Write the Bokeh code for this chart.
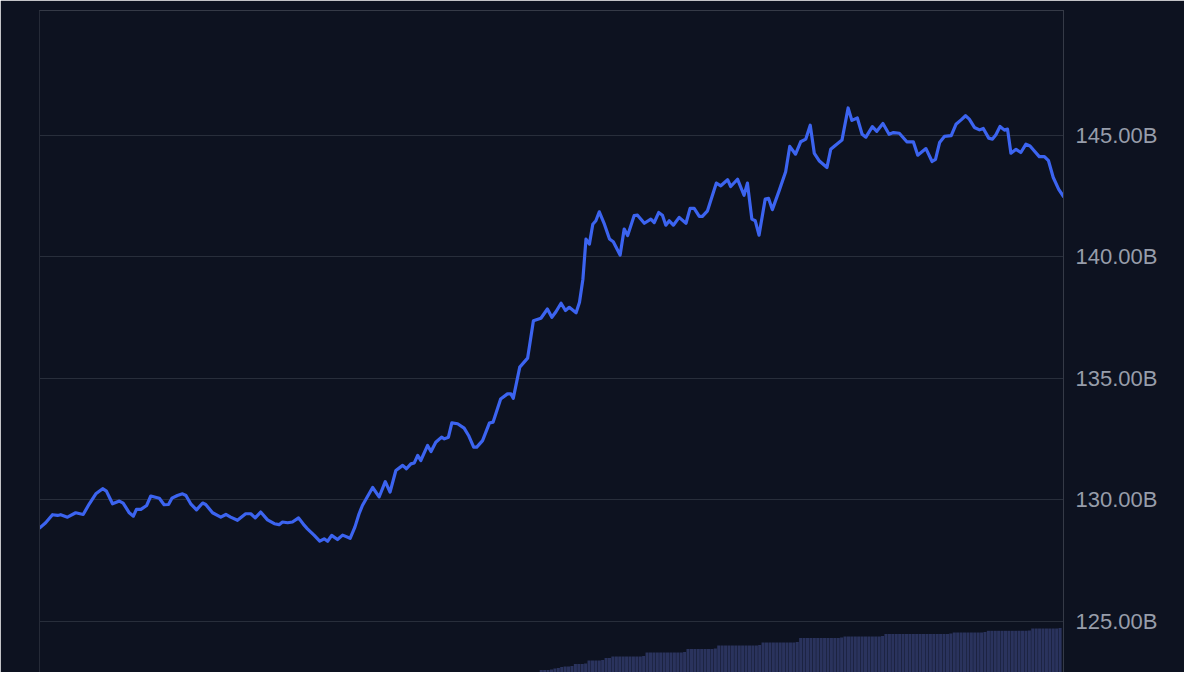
from bokeh.plotting import figure
from bokeh.models import Range1d, LinearAxis, FixedTicker, PrintfTickFormatter
from bokeh.embed import file_html
from bokeh.resources import INLINE

# ---------------- data ----------------
days = [
    0.0, 1.8, 3.8, 5.3, 6.2, 8.2, 10.6, 12.8, 14.6, 16.5,
    18.5, 19.6, 21.4, 23.4, 24.5, 26.3, 27.5, 28.4, 29.7, 31.4,
    32.6, 35.1, 36.5, 37.8, 38.8, 40.4, 41.9, 42.9, 44.3, 46.0,
    47.8, 48.7, 50.7, 53.1, 54.6, 56.0, 58.0, 60.4, 61.9, 63.2,
    64.8, 66.8, 68.8, 70.2, 71.2, 72.7, 74.1, 75.9, 77.6, 78.5,
    80.5, 82.1, 83.4, 84.4, 85.6, 87.3, 88.8, 91.0, 92.4, 93.6,
    94.6, 97.6, 99.5, 101.3, 102.7, 104.4, 106.4, 107.5, 108.8, 109.8,
    110.8, 111.7, 113.7, 114.7, 116.1, 117.8, 118.6, 119.8, 120.8, 122.5,
    124.4, 125.7, 127.2, 128.1, 129.8, 131.8, 132.9, 135.1, 137.1, 138.1,
    138.8, 140.7, 143.0, 144.7, 146.9, 148.8, 150.1, 151.3, 152.8, 154.1,
    155.2, 157.2, 158.2, 159.2, 160.1, 161.1, 162.1, 163.0, 164.0, 165.5,
    167.0, 168.1, 170.1, 171.3, 172.3, 174.2, 175.2, 177.2, 179.1, 180.1,
    181.4, 182.5, 183.5, 184.5, 185.7, 187.4, 189.4, 190.6, 191.8, 193.3,
    194.2, 195.7, 198.3, 199.6, 201.6, 202.5, 204.5, 206.4, 207.4, 208.7,
    209.7, 210.8, 212.6, 213.6, 214.7, 216.7, 218.6, 219.8, 221.5, 223.0,
    224.5, 225.8, 227.0, 228.4, 230.7, 231.8, 233.3, 235.1, 236.9, 238.0,
    239.6, 241.0, 242.1, 244.0, 245.3, 247.1, 248.9, 250.2, 251.9, 254.1,
    256.0, 257.3, 259.7, 261.5, 262.5, 263.7, 265.1, 267.1, 268.5, 270.0,
    271.3, 272.4, 273.9, 275.4, 276.5, 278.1, 279.2, 280.2, 281.4, 282.7,
    283.6, 284.6, 286.1, 287.5, 289.0, 290.2, 291.4, 292.9, 294.4, 295.6,
    297.0, 298.6, 300.0,
]

market_cap_b = [
    128.84, 129.06, 129.39, 129.36, 129.39, 129.29, 129.47, 129.40, 129.84, 130.25,
    130.46, 130.36, 129.84, 129.95, 129.87, 129.47, 129.33, 129.61, 129.61, 129.77,
    130.16, 130.07, 129.80, 129.81, 130.07, 130.18, 130.25, 130.18, 129.84, 129.59,
    129.87, 129.81, 129.47, 129.29, 129.40, 129.29, 129.16, 129.43, 129.43, 129.26,
    129.50, 129.18, 129.02, 128.98, 129.09, 129.06, 129.09, 129.26, 128.95, 128.81,
    128.54, 128.30, 128.40, 128.30, 128.54, 128.37, 128.55, 128.42, 128.88, 129.42,
    129.77, 130.51, 130.12, 130.75, 130.32, 131.21, 131.42, 131.28, 131.48, 131.52,
    131.83, 131.62, 132.24, 131.99, 132.37, 132.58, 132.51, 132.58, 133.17, 133.13,
    132.95, 132.65, 132.17, 132.17, 132.44, 133.16, 133.20, 134.15, 134.36, 134.36,
    134.18, 135.46, 135.83, 137.37, 137.47, 137.85, 137.51, 137.74, 138.09, 137.79,
    137.92, 137.70, 138.13, 139.08, 140.73, 140.52, 141.34, 141.48, 141.85, 141.34,
    140.73, 140.62, 140.07, 141.14, 140.87, 141.69, 141.71, 141.38, 141.55, 141.41,
    141.82, 141.71, 141.30, 141.48, 141.30, 141.62, 141.38, 141.99, 141.99, 141.66,
    141.66, 141.89, 143.03, 142.92, 143.17, 142.89, 143.19, 142.53, 143.03, 141.55,
    141.48, 140.89, 142.37, 142.40, 141.94, 142.72, 143.50, 144.54, 144.22, 144.73,
    144.84, 145.41, 144.25, 143.95, 143.67, 144.42, 144.60, 144.80, 146.12, 145.61,
    145.71, 145.04, 144.92, 145.35, 145.16, 145.48, 145.04, 145.11, 145.08, 144.73,
    144.73, 144.18, 144.45, 143.92, 144.01, 144.70, 144.95, 144.98, 145.45, 145.63,
    145.80, 145.66, 145.32, 145.22, 145.28, 144.88, 144.84, 145.02, 145.36, 145.21,
    145.25, 144.26, 144.42, 144.29, 144.63, 144.56, 144.36, 144.12, 144.12, 143.95,
    143.26, 142.77, 142.48,
]

bar_days = list(range(147, 300))
bar_values = (
    [0.25, 0.25, 0.25, 0.3]
    + [0.4, 0.45, 0.55, 0.6, 0.6, 0.65]
    + [0.85, 0.85, 0.85, 0.9]
    + [1.2, 1.2, 1.2, 1.2, 1.25]
    + [1.45, 1.45]
    + [1.6, 1.6, 1.6, 1.6, 1.6, 1.6, 1.6, 1.6, 1.6, 1.65]
    + [2.0, 2.0, 2.0, 2.0, 2.0, 2.0, 2.0, 2.0, 2.0, 2.0, 2.0, 2.05]
    + [2.35, 2.35, 2.35, 2.35, 2.35, 2.35, 2.35, 2.35, 2.4]
    + [2.7, 2.7, 2.7, 2.7, 2.7, 2.7, 2.7, 2.7, 2.7, 2.7, 2.7, 2.7, 2.75]
    + [3.0, 3.0, 3.0, 3.0, 3.0, 3.0, 3.0, 3.0, 3.0, 3.0, 3.05]
    + [3.45, 3.45, 3.45, 3.45, 3.45, 3.45, 3.45, 3.45, 3.45, 3.45, 3.45, 3.45, 3.5]
    + [3.6, 3.6, 3.6, 3.6, 3.6, 3.6, 3.6, 3.6, 3.6, 3.6, 3.6, 3.65]
    + [3.85, 3.85, 3.85, 3.85, 3.85, 3.85, 3.85, 3.85, 3.85, 3.85,
       3.85, 3.85, 3.85, 3.85, 3.85, 3.85, 3.85, 3.85, 3.85, 3.9]
    + [4.0, 4.0, 4.0, 4.0, 4.0, 4.0, 4.0, 4.0, 4.0, 4.05]
    + [4.17, 4.17, 4.17, 4.17, 4.17, 4.17, 4.17, 4.17, 4.17, 4.17, 4.17, 4.17, 4.2]
    + [4.4, 4.4, 4.4, 4.4, 4.4, 4.4, 4.4, 4.4, 4.45]
)

y_ticks = [125, 130, 135, 140, 145]

# ---------------- style ----------------
BG = "#0d1220"
LINE = "#3c64f0"
BAR = "#2a335d"
GRID = "#282e3b"
BORDER = "#353a47"
TEXT = "#979daa"

p = figure(
    width=1184, height=672,
    x_range=Range1d(0, 300), y_range=Range1d(122.90, 150.13),
    y_axis_location="right", x_axis_location="above",
    output_backend="svg", toolbar_location=None,
    min_border_left=39, min_border_top=10, min_border_bottom=0, min_border_right=121,
    background_fill_color=BG, border_fill_color=BG,
    outline_line_color=None,
)

p.extra_y_ranges = {"vol": Range1d(0, 66.2)}

p.vbar(x=bar_days, top=bar_values, bottom=0, width=0.9, y_range_name="vol",
       fill_color=BAR, line_color=None)

p.line(days, market_cap_b, line_color=LINE, line_width=3.2, line_join="round", line_cap="round")

ticker = FixedTicker(ticks=y_ticks)

# right value axis
ya = p.yaxis[0]
ya.ticker = ticker
ya.formatter = PrintfTickFormatter(format="%.2fB")
ya.major_tick_line_color = None
ya.minor_tick_line_color = None
ya.major_tick_out = 0
ya.major_tick_in = 0
ya.minor_tick_out = 0
ya.axis_line_color = BORDER
ya.major_label_standoff = 12
ya.major_label_text_font = "Liberation Sans"
ya.major_label_text_font_size = "22px"
ya.major_label_text_color = TEXT

# top border (x axis above without labels)
xa = p.xaxis[0]
xa.ticker = FixedTicker(ticks=[])
xa.major_tick_line_color = None
xa.minor_tick_line_color = None
xa.major_tick_out = 0
xa.minor_tick_out = 0
xa.major_label_standoff = 0
xa.axis_line_color = BORDER
xa.major_label_text_font_size = "0px"

# left border
la = LinearAxis(ticker=FixedTicker(ticks=[]), major_tick_line_color=None,
                minor_tick_line_color=None, major_tick_out=0, minor_tick_out=0,
                major_label_standoff=0,
                major_label_text_font_size="0px", axis_line_color="#252a37")
p.add_layout(la, "left")

p.xgrid.grid_line_color = None
p.ygrid.ticker = ticker
p.ygrid.grid_line_color = GRID
p.ygrid.grid_line_width = 1

open("out.html", "w").write(file_html(p, INLINE))
